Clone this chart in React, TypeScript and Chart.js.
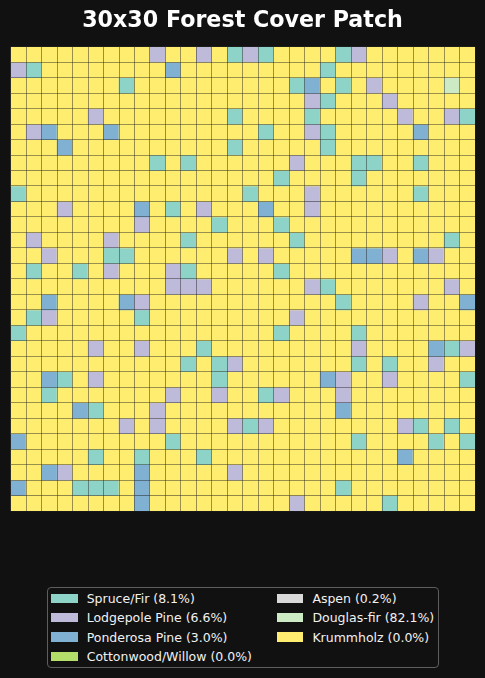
import React, { useEffect, useRef } from "react";
import { Chart, registerables } from "chart.js";

Chart.register(...registerables);

// Legend classes (in legend order), their shares and colours
const CLASS_NAMES = [
  "Spruce/Fir",
  "Lodgepole Pine",
  "Ponderosa Pine",
  "Cottonwood/Willow",
  "Aspen",
  "Douglas-fir",
  "Krummholz",
];
const CLASS_PCT = [8.1, 6.6, 3.0, 0.0, 0.2, 82.1, 0.0];
const CLASS_COLORS = ["#8dd3c7", "#bebada", "#80b1d3", "#b3de69", "#d9d9d9", "#ccebc5", "#ffed6f"];

// cell code -> class index (colour drawn)
const CELL_CODES: Record<string, number> = { S: 0, L: 1, P: 2, C: 3, A: 4, D: 5, ".": 6 };

// 30 x 30 grid, row 0 at top
const GRID_ROWS = [
  ".........L..L.SLS....SL.......",
  "LS........P.........S.........",
  ".......S..........SP.S.L....D.",
  "...................LS...L.....",
  ".....L........S....S.....L..LS",
  ".LP...P.........S..LS.....P...",
  "...P..........S.....S.........",
  ".........S.S......L...SS..S...",
  ".................S....S.......",
  "S..............S...L......S...",
  "...L....P.S.L...P..L..........",
  "........L....S...S............",
  ".L....L....S......S.........S.",
  "..L...SS......L.L.....PPL.PL..",
  ".S..S.L...LS.....S............",
  "..........LLL......LS.......L.",
  "..P....PL............S....L..P",
  ".SL.....S.........L...........",
  "S................S....S.......",
  ".....L..L...S.........L....PSL",
  "...........S.SL.......S.S..L..",
  "..PS.L.......S......PL..L....S",
  "..S.......L..L..SL...L........",
  "....PS...L...........P........",
  ".......L.L....LSL........LS.S.",
  "P.........S...........S....S.S",
  ".....S..S...S............P....",
  "..PL....P.....L...............",
  "P...SSS.P............S........",
  "........P.........L.....S.....",
];

const COLUMNS = GRID_ROWS[0].split("").map((_, i) => String(i));

const TITLE = "30x30 Forest Cover Patch";

const FONT = "'DejaVu Sans', sans-serif";

export default function App() {
  const canvasRef = useRef<HTMLCanvasElement | null>(null);

  useEffect(() => {
    document.body.style.margin = "0";
    document.body.style.background = "#111111";
    const canvas = canvasRef.current;
    if (!canvas) return;
    const datasets = GRID_ROWS.map((row, r) => ({
      label: "row " + r,
      data: row.split("").map(() => 1),
      backgroundColor: row.split("").map((ch) => CLASS_COLORS[CELL_CODES[ch]]),
      borderWidth: 0,
      barPercentage: 1,
      categoryPercentage: 1,
    }));
    const gridStyle = {
      display: true,
      color: "rgba(30,30,30,0.45)",
      lineWidth: 1,
      drawTicks: false,
      z: 1,
    };
    const chart = new Chart(canvas, {
      type: "bar",
      data: { labels: COLUMNS, datasets },
      options: {
        responsive: false,
        animation: false,
        devicePixelRatio: 1,
        layout: { padding: { left: 10.7, right: 10, top: 46.7, bottom: 167 } },
        plugins: {
          legend: { display: false },
          tooltip: { enabled: false },
          title: { display: false },
        },
        scales: {
          x: {
            type: "category",
            stacked: true,
            offset: true,
            grid: { ...gridStyle, offset: true },
            ticks: { display: false },
            border: { display: false },
          },
          y: {
            type: "linear",
            stacked: true,
            min: 0,
            max: GRID_ROWS.length,
            reverse: true,
            grid: { ...gridStyle },
            ticks: { display: false, stepSize: 1 },
            border: { display: false },
          },
        },
      },
    });
    return () => chart.destroy();
  }, []);

  const rowCenters = [598.3, 617.7, 637.1, 656.5];

  return (
    <div
      style={{
        position: "relative",
        width: 485,
        height: 678,
        background: "#111111",
        overflow: "hidden",
        fontFamily: FONT,
      }}
    >
      <canvas ref={canvasRef} width={485} height={678} style={{ position: "absolute", left: 0, top: 0 }} />
      <div
        style={{
          position: "absolute",
          left: 0,
          width: 485,
          top: 7.5,
          textAlign: "center",
          color: "#ffffff",
          fontWeight: "bold",
          fontSize: 22.2,
          lineHeight: "22.2px",
          whiteSpace: "nowrap",
        }}
      >
        {TITLE}
      </div>
      <div
        style={{
          position: "absolute",
          left: 46.7,
          top: 587.3,
          width: 392.3,
          height: 80.7,
          boxSizing: "border-box",
          border: "1px solid #5e5e5e",
          borderRadius: 4,
          background: "#111111",
        }}
      />
      {CLASS_NAMES.map((name, i) => {
        const col = i < 4 ? 0 : 1;
        const row = i < 4 ? i : i - 4;
        const left = col === 0 ? 51 : 276.7;
        return (
          <div
            key={name}
            style={{
              position: "absolute",
              left,
              top: rowCenters[row] - 9.7,
              height: 19.4,
              display: "flex",
              alignItems: "center",
              whiteSpace: "nowrap",
            }}
          >
            <span
              style={{
                display: "inline-block",
                width: 26.5,
                height: 9.5,
                background: CLASS_COLORS[i],
                marginRight: 9.2,
              }}
            />
            <span style={{ color: "#f2f2f2", fontSize: 12.5 }}>
              {name} ({CLASS_PCT[i].toFixed(1)}%)
            </span>
          </div>
        );
      })}
    </div>
  );
}
